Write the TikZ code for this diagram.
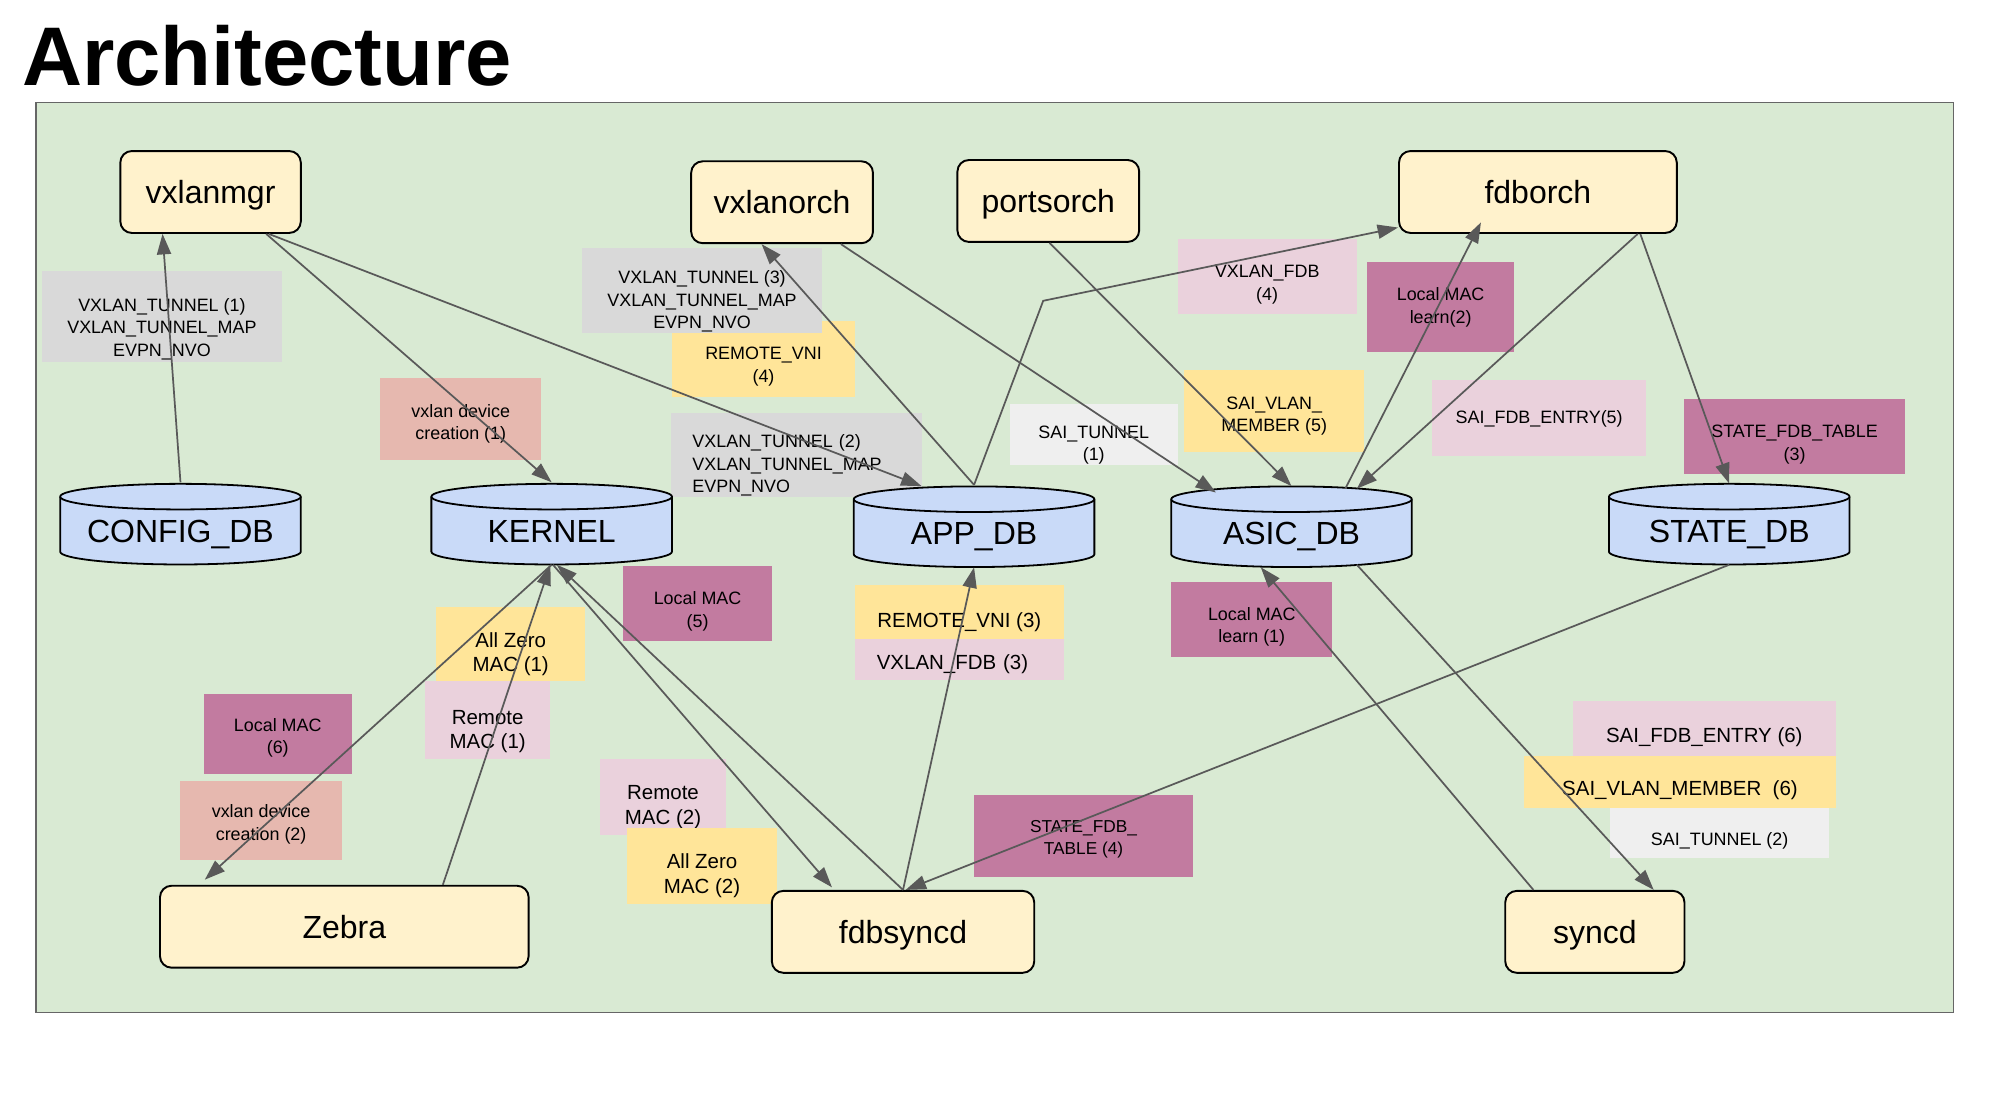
\documentclass[tikz,border=0pt]{standalone}
\usepackage{fontspec}
\setmainfont{Liberation Sans}
\usetikzlibrary{arrows.meta}

\definecolor{bgGreen}{HTML}{D9EAD3}
\definecolor{frameGray}{HTML}{666666}
\definecolor{procFill}{HTML}{FFF2CC}
\definecolor{dbFill}{HTML}{C9DAF8}
\definecolor{tagGray}{HTML}{D9D9D9}
\definecolor{tagLight}{HTML}{EFEFEF}
\definecolor{tagYellow}{HTML}{FFE599}
\definecolor{tagPink}{HTML}{EAD1DC}
\definecolor{tagPurple}{HTML}{C27BA0}
\definecolor{tagSalmon}{HTML}{E6B8AF}
\definecolor{lineGray}{HTML}{595959}

% lowers the text of a tag box by #1
\newcommand{\dn}[1]{\rule{0pt}{\dimexpr0.75em+#1pt+#1pt\relax}}

\tikzset{
  proc/.style={draw, line width=1.5pt, rounded corners=9pt, fill=procFill,
    minimum height=64pt, inner sep=0pt, text depth=0pt, font=\fontsize{25}{30}\selectfont},
  db/.style={minimum width=190pt, minimum height=65pt, inner sep=0pt,
    text height=33pt, text depth=5pt, font=\fontsize{25}{30}\selectfont,
    path picture={
      \path[fill=dbFill, draw=black, line width=1.4pt]
        ([shift={(1pt,-11pt)}]path picture bounding box.north west)
        -- ([shift={(1pt,11pt)}]path picture bounding box.south west)
        arc[start angle=180, end angle=360, x radius=94pt, y radius=10pt]
        -- ([shift={(-1pt,-11pt)}]path picture bounding box.north east)
        arc[start angle=0, end angle=180, x radius=94pt, y radius=10pt] -- cycle;
      \draw[line width=1.4pt] ([shift={(1pt,-11pt)}]path picture bounding box.north west)
        arc[start angle=180, end angle=360, x radius=94pt, y radius=10pt];
    }},
  tag/.style={inner sep=0pt, align=center, font=\fontsize{14}{17.5}\selectfont},
  tagbig/.style={tag, font=\fontsize{16}{19}\selectfont},
  flow/.style={draw=lineGray, line width=1.35pt, -{Triangle[length=16pt,width=11pt]}},
}

\begin{document}
\begin{tikzpicture}[x=1pt,y=-1pt]
\useasboundingbox (0,0) rectangle (1568,860);
\node[anchor=base west, inner sep=0pt, font=\fontsize{65}{70}\selectfont\bfseries] (title) at (17,66.5) {Architecture};
\draw[frameGray, line width=1.2pt, fill=bgGreen] (28,80) rectangle (1526,791);

% tags
\node[tag, fill=tagGray, minimum width=187, minimum height=71] (tunA) at (126.5,247.5) {\dn{9.5}VXLAN\_TUNNEL (1)\\VXLAN\_TUNNEL\_MAP\\EVPN\_NVO};
\node[tag, fill=tagSalmon, minimum width=126, minimum height=64] (devA) at (360,327) {\dn{4}vxlan device\\creation (1)};
\node[tag, fill=tagYellow, minimum width=143, minimum height=59] (vniD) at (596.5,280.5) {\dn{5.5}REMOTE\_VNI\\(4)};
\node[tag, fill=tagGray, minimum width=187, minimum height=66] (tunC) at (548.5,227) {\dn{8.5}VXLAN\_TUNNEL (3)\\VXLAN\_TUNNEL\_MAP\\EVPN\_NVO};
\node[tag, fill=tagGray, minimum height=65, inner xsep=17pt, text width=162pt, align=left] (tunB) at (622,355.5) {\dn{8}VXLAN\_TUNNEL (2)\\VXLAN\_TUNNEL\_MAP\\EVPN\_NVO};
\node[tag, fill=tagLight, minimum width=131, minimum height=47] (saiTunA) at (854.5,339.5) {\dn{8}SAI\_TUNNEL\\(1)};
\node[tag, fill=tagPink, minimum width=140, minimum height=58] (vxfdbD) at (990,216) {\dn{6}VXLAN\_FDB\\(4)};
\node[tag, fill=tagPurple, minimum width=115, minimum height=70] (learnB) at (1125.5,240) {\dn{0}Local MAC\\learn(2)};
\node[tag, fill=tagYellow, minimum width=141, minimum height=64] (vlanE) at (995.5,321) {\dn{3.5}SAI\_VLAN\_\\MEMBER (5)};
\node[tag, fill=tagPink, minimum width=167, minimum height=59] (fdbEntE) at (1202.5,326.5) {\dn{0.5}SAI\_FDB\_ENTRY(5)};
\node[tag, fill=tagPurple, minimum width=172, minimum height=58] (stFdbC) at (1402,341) {\dn{6}STATE\_FDB\_TABLE\\(3)};
\node[tag, fill=tagPurple, minimum width=116, minimum height=59] (localE) at (545,471.5) {\dn{6}Local MAC\\(5)};
\node[tagbig, fill=tagYellow, minimum width=116, minimum height=58] (zeroA) at (399,503) {\dn{8}All Zero\\MAC (1)};
\node[tagbig, fill=tagPink, minimum width=98, minimum height=61] (remoteA) at (381,562.5) {\dn{8.5}Remote\\MAC (1)};
\node[tag, fill=tagPurple, minimum width=116, minimum height=63] (localF) at (217,573.5) {\dn{3}Local MAC\\(6)};
\node[tag, fill=tagSalmon, minimum width=126, minimum height=62] (devB) at (204,641) {\dn{3}vxlan device\\creation (2)};
\node[tagbig, fill=tagPink, minimum width=98, minimum height=59] (remoteB) at (518,622.5) {\dn{7.5}Remote\\MAC (2)};
\node[tagbig, fill=tagYellow, minimum width=117, minimum height=59] (zeroB) at (548.5,676.5) {\dn{7.5}All Zero\\MAC (2)};
\node[tagbig, fill=tagYellow, minimum width=163, minimum height=42] (vniC) at (749.5,478) {\dn{7.5}REMOTE\_VNI (3)};
\node[tagbig, fill=tagPink, minimum height=32, inner xsep=17pt, text width=129pt, align=left] (vxfdbC) at (749.5,515) {\dn{3.5}VXLAN\_FDB (3)};
\node[tag, fill=tagPurple, minimum width=126, minimum height=58] (learnA) at (978,484) {\dn{5.5}Local MAC\\learn (1)};
\node[tag, fill=tagPurple, minimum width=171, minimum height=64, font=\fontsize{13.5}{17}\selectfont] (stFdbD) at (846.5,653) {\dn{2.5}STATE\_FDB\_\\TABLE (4)};
\node[tagbig, fill=tagPink, minimum width=205, minimum height=43] (fdbEntF) at (1331.5,569.5) {\dn{6}SAI\_FDB\_ENTRY (6)};
\node[tagbig, fill=tagYellow, minimum width=243, minimum height=40] (vlanF) at (1312.5,611) {\dn{6.5}SAI\_VLAN\_MEMBER~ (6)};
\node[tag, fill=tagLight, minimum width=171, minimum height=39] (saiTunB) at (1343.5,650.5) {\dn{6}SAI\_TUNNEL (2)};

% databases
\node[db] (configdb) at (141,409.5) {CONFIG\_DB};
\node[db] (kernel) at (431,409.5) {KERNEL};
\node[db] (appdb) at (761,411.5) {APP\_DB};
\node[db] (asicdb) at (1009,411.5) {ASIC\_DB};
\node[db] (statedb) at (1351,409.5) {STATE\_DB};

% processes
\node[proc, minimum width=141] (vxlanmgr) at (164.5,150) {vxlanmgr};
\node[proc, minimum width=142] (vxlanorch) at (611,158) {vxlanorch};
\node[proc, minimum width=142] (portsorch) at (819,157) {portsorch};
\node[proc, minimum width=217] (fdborch) at (1201.5,150) {fdborch};
\node[proc, minimum width=288] (zebra) at (269,724) {Zebra};
\node[proc, minimum width=205] (fdbsyncd) at (705.5,728) {fdbsyncd};
\node[proc, minimum width=140] (syncd) at (1246,728) {syncd};

% flows
\draw[flow] (configdb.north) -- ([xshift=-37.5pt]vxlanmgr.south);
\draw[flow] ([xshift=43.5pt]vxlanmgr.south) -- (kernel.north);
\draw[flow] ([xshift=45.5pt]vxlanmgr.south) -- ([xshift=-41pt,yshift=-1pt]appdb.north);
\draw[flow] (appdb.north) -- ([xshift=-16pt]vxlanorch.south);
\draw[flow] (appdb.north) -- (815,235) -- ([yshift=5pt]fdborch.south west);
\draw[flow] ([xshift=46pt]vxlanorch.south) -- ([xshift=-59pt,yshift=-6pt]asicdb.north);
\draw[flow] ([xshift=1pt]portsorch.south) -- ([yshift=-1pt]asicdb.north);
\draw[flow] ([xshift=42pt,yshift=-3pt]asicdb.north) -- ([xshift=-44.5pt,yshift=9pt]fdborch.south);
\draw[flow] ([xshift=78pt]fdborch.south) -- ([xshift=51pt,yshift=-3pt]asicdb.north);
\draw[flow] ([xshift=80pt]fdborch.south) -- ([yshift=-1pt]statedb.north);
\draw[flow] ([yshift=1pt]kernel.south) -- ([xshift=-109pt,yshift=4pt]zebra.north);
\draw[flow] ([xshift=77pt]zebra.north) -- ([xshift=-1pt,yshift=1pt]kernel.south);
\draw[flow] ([xshift=1pt,yshift=1pt]kernel.south) -- ([xshift=-55.5pt,yshift=2pt]fdbsyncd.north);
\draw[flow] (fdbsyncd.north) -- ([xshift=4pt,yshift=1pt]kernel.south);
\draw[flow] (fdbsyncd.north) -- ([yshift=1pt]appdb.south);
\draw[flow] ([yshift=1pt]statedb.south) -- ([xshift=2pt]fdbsyncd.north);
\draw[flow] ([xshift=-48pt]syncd.north) -- ([xshift=-24pt,yshift=1pt]asicdb.south);
\draw[flow] ([xshift=51pt,yshift=3pt]asicdb.south) -- ([xshift=46pt]syncd.north);
\end{tikzpicture}
\end{document}
